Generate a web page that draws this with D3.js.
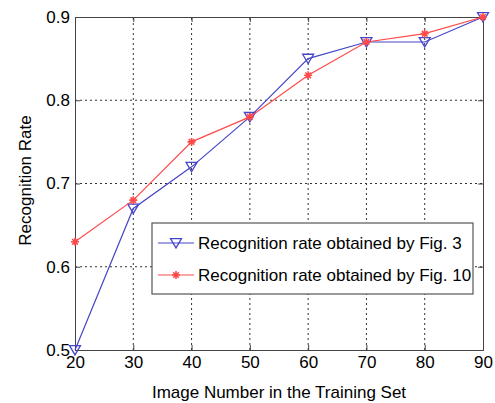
<!DOCTYPE html>
<html>
<head>
<meta charset="utf-8">
<script src="https://cdn.jsdelivr.net/npm/d3@7"></script>
<style>
  body { margin: 0; background: #fff; }
  svg text { font-family: Arial, "Liberation Sans", sans-serif; fill: #000; }
</style>
</head>
<body>
<div id="chart"></div>
<script>
const imageNumbers = [20, 30, 40, 50, 60, 70, 80, 90];
const rateFig3 = [0.50, 0.67, 0.72, 0.78, 0.85, 0.87, 0.87, 0.90];
const rateFig10 = [0.63, 0.68, 0.75, 0.78, 0.83, 0.87, 0.88, 0.90];
const xTicks = [20, 30, 40, 50, 60, 70, 80, 90];
const yTicks = [0.5, 0.6, 0.7, 0.8, 0.9];
const seriesNames = ['Recognition rate obtained by Fig. 3', 'Recognition rate obtained by Fig. 10'];

const width = 495, height = 403;
const margin = { top: 17, right: 12, bottom: 53, left: 75 };
const colors = ['#4646c8', '#ff4a4a'];

const svg = d3.select('#chart').append('svg')
  .attr('width', width).attr('height', height);

const x = d3.scaleLinear().domain([20, 90]).range([margin.left, width - margin.right]);
const y = d3.scaleLinear().domain([0.5, 0.9]).range([height - margin.bottom, margin.top]);

// grid
const grid = svg.append('g').attr('stroke', '#333').attr('stroke-dasharray', '2,3').attr('stroke-width', 1);
grid.selectAll('line.gx').data(xTicks.slice(1, -1)).join('line')
  .attr('x1', d => x(d)).attr('x2', d => x(d))
  .attr('y1', y(0.5)).attr('y2', y(0.9));
grid.selectAll('line.gy').data(yTicks.slice(1, -1)).join('line')
  .attr('y1', d => y(d)).attr('y2', d => y(d))
  .attr('x1', x(20)).attr('x2', x(90));

// axes
const fontSize = 17;
svg.append('g')
  .attr('transform', `translate(0, ${y(0.5)})`)
  .call(d3.axisBottom(x).tickValues(xTicks).tickSize(-5).tickPadding(6).tickFormat(d3.format('d')))
  .call(g => g.selectAll('text').attr('font-size', fontSize).attr('font-family', 'Arial'))
  .call(g => g.selectAll('line, path').attr('stroke', '#444'));
svg.append('g')
  .attr('transform', `translate(${x(20)}, 0)`)
  .call(d3.axisLeft(y).tickValues(yTicks).tickSize(-5).tickPadding(5).tickFormat(d3.format('.1f')))
  .call(g => g.selectAll('text').attr('font-size', fontSize).attr('font-family', 'Arial'))
  .call(g => g.selectAll('line, path').attr('stroke', '#444'));
svg.append('g')
  .attr('transform', `translate(0, ${y(0.9)})`)
  .call(d3.axisTop(x).tickValues(xTicks).tickSize(-5).tickFormat(''))
  .call(g => g.selectAll('line, path').attr('stroke', '#444'));
svg.append('g')
  .attr('transform', `translate(${x(90)}, 0)`)
  .call(d3.axisRight(y).tickValues(yTicks).tickSize(-5).tickFormat(''))
  .call(g => g.selectAll('line, path').attr('stroke', '#444'));

// labels
svg.append('text')
  .attr('x', (x(20) + x(90)) / 2).attr('y', 398)
  .attr('text-anchor', 'middle').attr('font-size', fontSize)
  .text('Image Number in the Training Set');
svg.append('text')
  .attr('transform', `translate(31, ${(y(0.5) + y(0.9)) / 2 - 3}) rotate(-90)`)
  .attr('text-anchor', 'middle').attr('font-size', fontSize)
  .text('Recognition Rate');

const lineFn = d3.line().x((_, i) => x(imageNumbers[i])).y(d => y(d));

const triangle = s => `M${-s},${-s * 0.8}L${s},${-s * 0.8}L0,${s * 0.9}Z`;
const star = s => `M${-s},0L${s},0M0,${-s}L0,${s}M${-s * 0.7},${-s * 0.7}L${s * 0.7},${s * 0.7}M${-s * 0.7},${s * 0.7}L${s * 0.7},${-s * 0.7}`;

const drawMarker = (g, idx, cx, cy) => {
  if (idx === 0) {
    g.append('path').attr('d', triangle(5.5)).attr('transform', `translate(${cx},${cy})`)
      .attr('fill', 'none').attr('stroke', colors[0]).attr('stroke-width', 1.3);
  } else {
    g.append('path').attr('d', star(4)).attr('transform', `translate(${cx},${cy})`)
      .attr('fill', 'none').attr('stroke', colors[1]).attr('stroke-width', 1.6);
  }
};

[rateFig3, rateFig10].forEach((series, idx) => {
  const g = svg.append('g');
  g.append('path').attr('d', lineFn(series))
    .attr('fill', 'none').attr('stroke', colors[idx]).attr('stroke-width', 1.2);
  series.forEach((v, i) => drawMarker(g, idx, x(imageNumbers[i]), y(v)));
});

// legend
const legend = svg.append('g');
legend.append('rect')
  .attr('x', 152).attr('y', 223).attr('width', 321).attr('height', 71)
  .attr('fill', '#fff').attr('stroke', '#555').attr('stroke-width', 1.2);
seriesNames.forEach((name, idx) => {
  const ly = 243 + idx * 32;
  legend.append('line').attr('x1', 158).attr('x2', 194).attr('y1', ly).attr('y2', ly)
    .attr('stroke', colors[idx]).attr('stroke-width', 1.2);
  drawMarker(legend, idx, 176, ly);
  legend.append('text').attr('x', 198).attr('y', ly + 6)
    .attr('font-size', fontSize).text(name);
});
</script>
</body>
</html>
